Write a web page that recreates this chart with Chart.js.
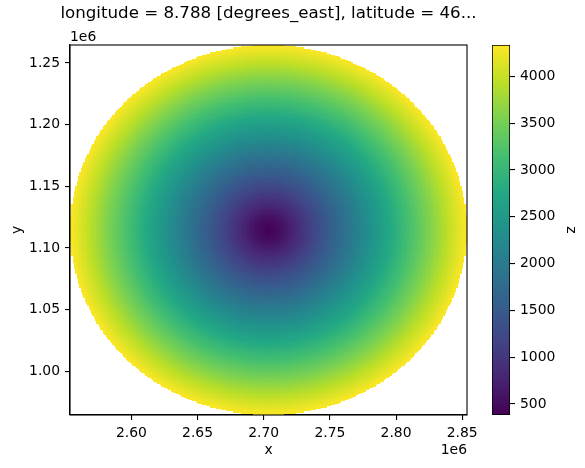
<!DOCTYPE html>
<html>
<head>
<meta charset="utf-8">
<script src="https://cdn.jsdelivr.net/npm/chart.js@4.4.0/dist/chart.umd.min.js"></script>
<style>
  html, body { margin: 0; padding: 0; background: #fff; }
  #wrap { position: relative; width: 585px; height: 468px; }
  #main { position: absolute; left: 0; top: 0; }
  #cbar { position: absolute; left: 470px; top: 0; }
</style>
</head>
<body>
<div id="wrap">
  <canvas id="main" width="585" height="468"></canvas>
  <canvas id="cbar" width="115" height="468"></canvas>
</div>
<script>
// valeurs
const titleText = 'longitude = 8.788 [degrees_east], latitude = 46...';
const xTicks = [2600000, 2650000, 2700000, 2750000, 2800000, 2850000];
const yTicks = [1000000, 1050000, 1100000, 1150000, 1200000, 1250000];
const zTicks = [500, 1000, 1500, 2000, 2500, 3000, 3500, 4000];
const xRange = [2553600, 2853600];
const yRange = [964600, 1264600];
const zRange = [382, 4334];

// disque de données : centre, rayon, pas de la grille
const discCentre = [2703600, 1114600];
const discRadius = 150000;
const gridStep = 1000;

// z le long d'un rayon (m depuis le centre)
const profileR = [0, 10000, 20000, 30000, 40000, 50000, 60000, 70000,
                  80000, 90000, 100000, 110000, 120000, 130000, 140000, 150000];
const profileZ = [382, 545, 815, 1085, 1360, 1630, 1900, 2170,
                  2440, 2710, 2985, 3255, 3525, 3795, 4065, 4334];

const viridis = ['#440154', '#482475', '#414487', '#355f8d', '#2a788e', '#21918c',
                 '#22a884', '#44bf70', '#7ad151', '#bddf26', '#fde725'];

const font = { family: 'DejaVu Sans', size: 13.9 };
const black = '#000';

function zAt(r) {
    for (let k = 1; k < profileR.length; k++) {
        if (r <= profileR[k]) {
            const t = (r - profileR[k - 1]) / (profileR[k] - profileR[k - 1]);
            return profileZ[k - 1] + t * (profileZ[k] - profileZ[k - 1]);
        }
    }
    return profileZ[profileZ.length - 1];
}

function hexToRgb(h) {
    return [parseInt(h.slice(1, 3), 16), parseInt(h.slice(3, 5), 16), parseInt(h.slice(5, 7), 16)];
}
const viridisRgb = viridis.map(hexToRgb);

function colourFor(z) {
    let t = (z - zRange[0]) / (zRange[1] - zRange[0]);
    t = Math.max(0, Math.min(1, t)) * (viridisRgb.length - 1);
    const k = Math.min(Math.floor(t), viridisRgb.length - 2);
    const f = t - k;
    const a = viridisRgb[k], b = viridisRgb[k + 1];
    const c = a.map((v, i) => Math.round(v + f * (b[i] - v)));
    return `rgb(${c[0]},${c[1]},${c[2]})`;
}

// cellules de la grille à l'intérieur du disque
const cells = [];
const cellColours = [];
const nCells = Math.round(2 * discRadius / gridStep);
for (let i = 0; i < nCells; i++) {
    for (let j = 0; j < nCells; j++) {
        const x = discCentre[0] - discRadius + (i + 0.5) * gridStep;
        const y = discCentre[1] - discRadius + (j + 0.5) * gridStep;
        const r = Math.hypot(x - discCentre[0], y - discCentre[1]);
        if (r > discRadius) continue;
        cells.push({ x: x, y: y });
        cellColours.push(colourFor(zAt(r)));
    }
}

// dessine chaque cellule comme un rectangle plein, via les échelles du graphique
const cellPlugin = {
    id: 'cells',
    beforeDatasetsDraw(chart) {
        const xs = chart.scales.x, ys = chart.scales.y;
        const a = chart.chartArea;
        const ctx = chart.ctx;
        const half = gridStep / 2;
        ctx.save();
        ctx.beginPath();
        ctx.rect(a.left, a.top, a.right - a.left, a.bottom - a.top);
        ctx.clip();
        chart.data.datasets[0].data.forEach((c, k) => {
            const x0 = Math.round(xs.getPixelForValue(c.x - half));
            const x1 = Math.round(xs.getPixelForValue(c.x + half));
            const y0 = Math.round(ys.getPixelForValue(c.y + half));
            const y1 = Math.round(ys.getPixelForValue(c.y - half));
            if (x1 <= x0 || y1 <= y0) return;
            ctx.fillStyle = cellColours[k];
            ctx.fillRect(x0, y0, x1 - x0, y1 - y0);
        });
        ctx.restore();
    }
};

// cadre noir autour de la zone du graphique
const framePlugin = {
    id: 'frame',
    afterDatasetsDraw(chart) {
        const a = chart.chartArea;
        const ctx = chart.ctx;
        ctx.save();
        ctx.strokeStyle = black;
        ctx.lineWidth = 1.1;
        ctx.strokeRect(a.left, a.top, a.right - a.left, a.bottom - a.top);
        ctx.restore();
    }
};

// titre et facteurs "1e6"
const textPlugin = {
    id: 'texts',
    afterDraw(chart) {
        const a = chart.chartArea;
        const ctx = chart.ctx;
        ctx.save();
        ctx.fillStyle = black;
        ctx.textBaseline = 'alphabetic';
        ctx.font = '16.67px "DejaVu Sans"';
        ctx.textAlign = 'center';
        ctx.fillText(titleText, (a.left + a.right) / 2, 18);
        ctx.font = '13.9px "DejaVu Sans"';
        ctx.textAlign = 'left';
        ctx.fillText('1e6', a.left, 40.5);
        ctx.textAlign = 'right';
        ctx.fillText('1e6', a.right, 453.5);
        ctx.restore();
    }
};

const axisGrid = { drawOnChartArea: false, drawTicks: true, tickLength: 5, color: black, lineWidth: 1.1 };

new Chart(document.getElementById('main'), {
    type: 'scatter',
    data: {
        datasets: [{
            data: cells,
            pointRadius: 0,
            pointHoverRadius: 0
        }]
    },
    options: {
        responsive: false,
        animation: false,
        events: [],
        layout: { padding: { top: 45, right: 118, left: 0, bottom: 0 } },
        plugins: { legend: { display: false }, tooltip: { enabled: false } },
        scales: {
            x: {
                type: 'linear',
                min: xRange[0],
                max: xRange[1],
                afterBuildTicks: s => { s.ticks = xTicks.map(v => ({ value: v })); },
                afterFit: s => { s.height = 53; },
                ticks: { callback: v => (v / 1e6).toFixed(2), font: font, color: black, padding: 5, maxRotation: 0 },
                grid: axisGrid,
                border: { display: true, color: black, width: 1.1 },
                title: { display: true, text: 'x', font: font, color: black, padding: { top: 0, bottom: 9 } }
            },
            y: {
                type: 'linear',
                min: yRange[0],
                max: yRange[1],
                afterBuildTicks: s => { s.ticks = yTicks.map(v => ({ value: v })); },
                afterFit: s => { s.width = 70; },
                ticks: { callback: v => (v / 1e6).toFixed(2), font: font, color: black, padding: 5 },
                grid: axisGrid,
                border: { display: true, color: black, width: 1.1 },
                title: { display: true, text: 'y', font: font, color: black, padding: { top: 9, bottom: 0 } }
            }
        }
    },
    plugins: [cellPlugin, framePlugin, textPlugin]
});

// barre de couleur
new Chart(document.getElementById('cbar'), {
    type: 'bar',
    data: {
        labels: ['z'],
        datasets: [{
            data: [zRange],
            backgroundColor: ctx => {
                const area = ctx.chart.chartArea;
                if (!area) return viridis[0];
                const g = ctx.chart.ctx.createLinearGradient(0, area.bottom, 0, area.top);
                viridis.forEach((c, i) => g.addColorStop(i / (viridis.length - 1), c));
                return g;
            },
            borderColor: black,
            borderWidth: 1.1,
            borderSkipped: false,
            barPercentage: 1,
            categoryPercentage: 1
        }]
    },
    options: {
        responsive: false,
        animation: false,
        events: [],
        layout: { padding: { left: 22, top: 45, bottom: 53, right: 0 } },
        plugins: { legend: { display: false }, tooltip: { enabled: false } },
        scales: {
            x: { display: false },
            y: {
                position: 'right',
                min: zRange[0],
                max: zRange[1],
                afterBuildTicks: s => { s.ticks = zTicks.map(v => ({ value: v })); },
                afterFit: s => { s.width = 75; },
                ticks: { callback: v => String(v), font: font, color: black, padding: 5 },
                grid: axisGrid,
                border: { display: false },
                title: { display: true, text: 'z', font: font, color: black, padding: { top: 6, bottom: 0 } }
            }
        }
    }
});
</script>
</body>
</html>
